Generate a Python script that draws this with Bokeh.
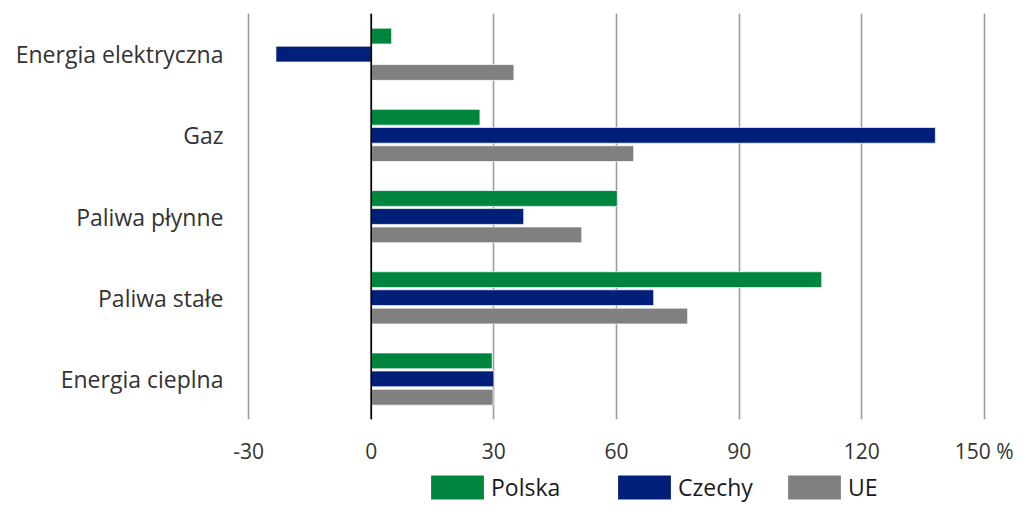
from bokeh.plotting import figure
from bokeh.models import (FactorRange, Range1d, FixedTicker, Span, Legend, LegendItem,
                          ColumnDataSource)
from bokeh.transform import dodge
from bokeh.layouts import column
from bokeh.embed import file_html
from bokeh.resources import INLINE

categories = ["Energia elektryczna", "Gaz", "Paliwa płynne", "Paliwa stałe", "Energia cieplna"]
polska = [5.0, 26.6, 60.2, 110.2, 29.6]
czechy = [-23.3, 138.0, 37.3, 69.1, 30.0]
ue = [34.9, 64.2, 51.5, 77.4, 29.8]
series_names = ["Polska", "Czechy", "UE"]
colors = ["#00853f", "#001f78", "#808080"]
x_ticks = [-30, 0, 30, 60, 90, 120, 150]
x_tick_labels = ["-30", "0", "30", "60", "90", "120", "150 %"]

FONT = "Open Sans"

src = ColumnDataSource(dict(cat=categories, Polska=polska, Czechy=czechy, UE=ue))

p = figure(width=1013, height=469, output_backend="svg", toolbar_location=None,
           y_range=FactorRange(factors=list(reversed(categories))),
           x_range=Range1d(-30.5, 150.5),
           min_border_left=246, min_border_right=27, min_border_top=13, min_border_bottom=50)
p.outline_line_color = None
p.background_fill_color = "white"
p.border_fill_color = "white"

offsets = [0.222, 0.0, -0.226]
for name, col, off in zip(series_names, colors, offsets):
    p.hbar(y=dodge("cat", off, range=p.y_range), left=0, right=name, height=0.195,
           source=src, fill_color=col, line_color="white", line_width=1, line_alpha=0.7)

# grid
p.ygrid.grid_line_color = None
p.xgrid.ticker = FixedTicker(ticks=x_ticks)
p.xgrid.grid_line_color = "#9c9c9c"
p.xgrid.grid_line_width = 1.6

p.add_layout(Span(location=0, dimension="height", line_color="#000000", line_width=1.6))

# axes
p.xaxis.ticker = FixedTicker(ticks=x_ticks)
p.xaxis.major_label_overrides = {t: s for t, s in zip(x_ticks, x_tick_labels)}
p.xaxis.axis_line_color = None
p.xaxis.major_tick_line_color = None
p.xaxis.minor_tick_line_color = None
p.xaxis.major_tick_out = 0
p.xaxis.major_label_standoff = 17
p.xaxis.major_label_text_font = FONT
p.xaxis.major_label_text_font_size = "21px"
p.xaxis.major_label_text_color = "#333333"

p.yaxis.axis_line_color = None
p.yaxis.major_tick_line_color = None
p.yaxis.minor_tick_line_color = None
p.yaxis.major_tick_out = 0
p.yaxis.major_label_standoff = 23
p.yaxis.major_label_text_font = FONT
p.yaxis.major_label_text_font_size = "23px"
p.yaxis.major_label_text_color = "#333333"

# legend strip (separate figure below the chart; its frame is aligned with the chart's)
lp = figure(width=1013, height=34, output_backend="svg", toolbar_location=None,
            x_range=Range1d(0, 1), y_range=Range1d(0, 1),
            x_axis_location=None, y_axis_location=None,
            min_border_left=246, min_border_right=27, min_border_top=0, min_border_bottom=0)
lp.outline_line_color = None
lp.grid.visible = False
lp.border_fill_color = "white"
lp.background_fill_alpha = 0

legend_x = [178, 365, 535]
for name, col, lx in zip(series_names, colors, legend_x):
    # legend swatch renderer kept outside the visible range
    r = lp.hbar(y=[-5.0], left=[0.0], right=[1.0], height=0.5, fill_color=col, line_color=None)
    lg = Legend(items=[LegendItem(label=name, renderers=[r])], location=(lx, 0),
                orientation="horizontal", glyph_width=66, glyph_height=30, label_standoff=1,
                label_text_font=FONT, label_text_font_size="23px", label_text_color="#1a1a1a",
                padding=0, margin=0, spacing=0, border_line_color=None,
                background_fill_alpha=0, label_height=30)
    lp.add_layout(lg, "center")

layout = column(p, lp, spacing=0)
open("out.html", "w").write(file_html(layout, INLINE))
